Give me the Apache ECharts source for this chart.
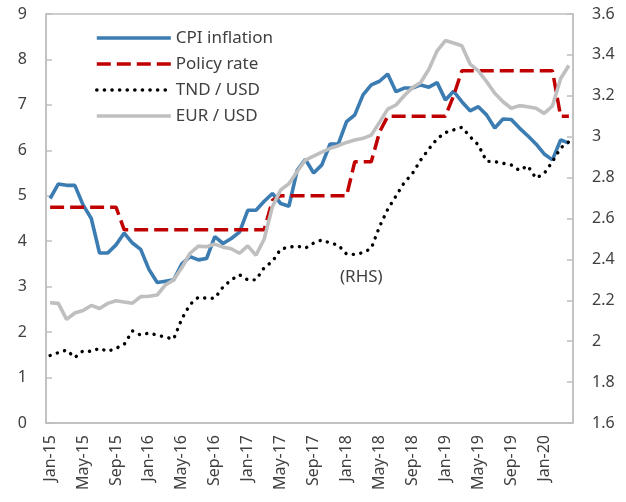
<!DOCTYPE html>
<html><head><meta charset="utf-8">
<script src="https://cdn.jsdelivr.net/npm/echarts@6/dist/echarts.min.js"></script>
<style>html,body{margin:0;padding:0;background:#fff}#c{width:626px;height:502px}</style>
</head><body><div id="c"></div>
<script>
const months = ['Jan','Feb','Mar','Apr','May','Jun','Jul','Aug','Sep','Oct','Nov','Dec'];
const years = ['15','16','17','18','19','20'];
const categories = [];
for (const y of years) for (const m of months) { if (categories.length < 64) categories.push(m + '-' + y); }

const cpiInflation = [
 4.94,5.26,5.23,5.23,4.80,4.50,3.74,3.74,3.92,4.18,3.96,3.82,
 3.38,3.09,3.12,3.15,3.50,3.66,3.59,3.62,4.10,3.95,4.06,4.20,
 4.68,4.68,4.88,5.05,4.83,4.77,5.56,5.80,5.50,5.68,6.14,6.14,
 6.63,6.78,7.22,7.44,7.52,7.68,7.29,7.37,7.37,7.44,7.39,7.49,
 7.11,7.30,7.07,6.87,6.96,6.78,6.49,6.69,6.68,6.49,6.32,6.14,
 5.92,5.79,6.23,6.16];
const policyRate = [
 4.75,4.75,4.75,4.75,4.75,4.75,4.75,4.75,4.75,4.25,4.25,4.25,
 4.25,4.25,4.25,4.25,4.25,4.25,4.25,4.25,4.25,4.25,4.25,4.25,
 4.25,4.25,4.25,4.90,5.00,5.00,5.00,5.00,5.00,5.00,5.00,5.00,
 5.00,5.75,5.75,5.75,6.40,6.75,6.75,6.75,6.75,6.75,6.75,6.75,
 6.75,7.20,7.75,7.75,7.75,7.75,7.75,7.75,7.75,7.75,7.75,7.75,
 7.75,7.75,6.75,6.75];
const tndUsd = [
 1.930,1.944,1.957,1.920,1.953,1.950,1.965,1.950,1.965,1.985,2.050,2.030,
 2.040,2.030,2.020,2.010,2.110,2.180,2.215,2.210,2.210,2.265,2.300,2.325,
 2.300,2.300,2.360,2.390,2.450,2.460,2.465,2.455,2.480,2.495,2.480,2.470,
 2.426,2.424,2.433,2.454,2.560,2.645,2.710,2.775,2.820,2.886,2.940,2.990,
 3.020,3.033,3.046,3.000,2.960,2.880,2.878,2.870,2.862,2.835,2.858,2.797,
 2.820,2.878,2.945,2.975];
const eurUsd = [
 2.188,2.185,2.107,2.138,2.150,2.175,2.160,2.185,2.198,2.192,2.186,2.218,
 2.220,2.226,2.275,2.300,2.360,2.430,2.465,2.462,2.475,2.460,2.452,2.430,
 2.466,2.420,2.500,2.658,2.740,2.770,2.830,2.886,2.905,2.925,2.943,2.956,
 2.972,2.984,2.992,3.008,3.070,3.135,3.155,3.200,3.240,3.265,3.330,3.420,
 3.470,3.458,3.445,3.355,3.322,3.270,3.212,3.171,3.139,3.152,3.146,3.139,
 3.114,3.150,3.285,3.348];
const seriesNames = ['CPI inflation','Policy rate','TND / USD','EUR / USD'];
const rhsNote = '(RHS)';

const FONT = '"Noto Sans", sans-serif';
const TXT = '#404040';
const AX = '#bfbfbf';
const NOFILL = {color: 'rgba(0,0,0,0)', borderWidth: 0, borderColor: 'rgba(0,0,0,0)'};

const chart = echarts.init(document.getElementById('c'), null, {renderer:'canvas'});
chart.setOption({
  animation: false,
  backgroundColor: '#fff',
  textStyle: {fontFamily: FONT},
  grid: {left: 46, right: 53, top: 14, bottom: 79, show: true, borderColor: AX, borderWidth: 1.5},
  legend: {
    orient: 'vertical', left: 90, top: 24.5, padding: 5, itemWidth: 74, itemHeight: 14, itemGap: 9,
    itemStyle: {opacity: 0},
    lineStyle: {width: 3.6},
    textStyle: {fontSize: 17, color: TXT, fontFamily: FONT, lineHeight: 14},
    data: seriesNames
  },
  xAxis: {
    type: 'category', data: categories, boundaryGap: true,
    axisLine: {lineStyle: {color: AX, width: 1.5}},
    axisTick: {inside: true, length: 6, interval: 3, lineStyle: {color: AX, width: 1.5}},
    axisLabel: {interval: 3, rotate: 90, margin: 12, fontSize: 16, color: TXT, fontFamily: FONT},
    splitLine: {show: false}
  },
  yAxis: [
    {type: 'value', min: 0, max: 9, interval: 1, position: 'left',
     axisLine: {show: true, lineStyle: {color: AX, width: 1.5}},
     axisTick: {show: true, inside: true, length: 6, lineStyle: {color: AX, width: 1.5}},
     axisLabel: {margin: 19, fontSize: 16, color: TXT, fontFamily: FONT},
     splitLine: {show: false}},
    {type: 'value', min: 1.6, max: 3.6, interval: 0.2, position: 'right',
     axisLine: {show: true, lineStyle: {color: AX, width: 1.5}},
     axisTick: {show: true, inside: true, length: 6, lineStyle: {color: AX, width: 1.5}},
     axisLabel: {margin: 19, fontSize: 16, color: TXT, fontFamily: FONT,
       formatter: v => String(Math.round(v * 10) / 10)},
     splitLine: {show: false}}
  ],
  series: [
    {name: seriesNames[0], type: 'line', yAxisIndex: 0, data: cpiInflation, symbol: 'none',
     lineStyle: {color: '#3b7cb2', width: 3.6}, itemStyle: NOFILL},
    {name: seriesNames[1], type: 'line', yAxisIndex: 0, data: policyRate, symbol: 'none',
     lineStyle: {color: '#c00000', width: 3.5, type: [14, 6]}, itemStyle: NOFILL},
    {name: seriesNames[2], type: 'line', yAxisIndex: 1, data: tndUsd, symbol: 'none',
     lineStyle: {color: '#000', width: 3.4, type: [0.1, 7.5], cap: 'round'}, itemStyle: NOFILL},
    {name: seriesNames[3], type: 'line', yAxisIndex: 1, data: eurUsd, symbol: 'none',
     lineStyle: {color: '#bfbfbf', width: 3.6}, itemStyle: NOFILL}
  ],
  graphic: [{type: 'text', left: 340, top: 269,
    style: {text: rhsNote, fontSize: 17, fill: TXT, fontFamily: FONT}}]
});
</script></body></html>
